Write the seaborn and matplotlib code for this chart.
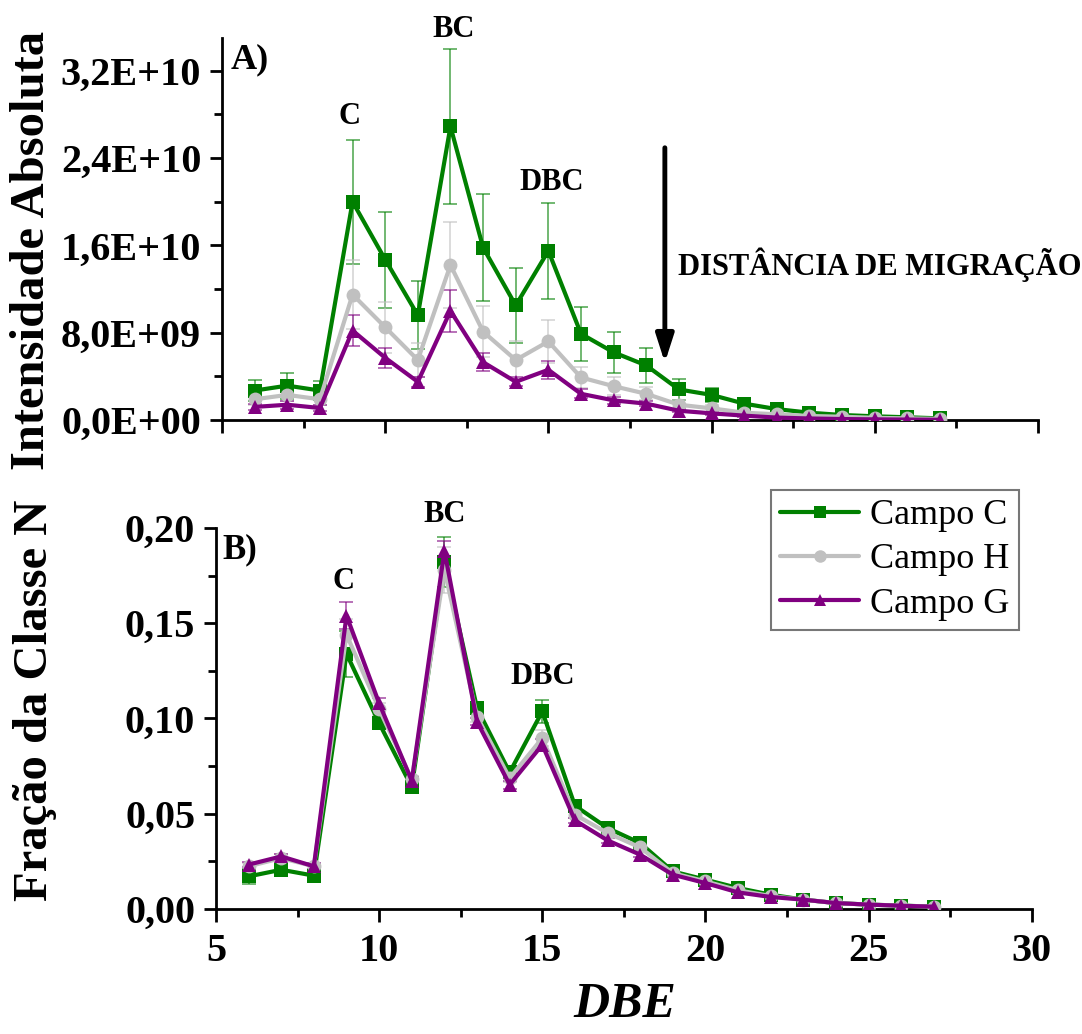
import numpy as np
import pandas as pd
import seaborn as sns
import matplotlib
matplotlib.use("Agg")
import matplotlib.pyplot as plt
from matplotlib.ticker import MultipleLocator, FuncFormatter

# ---------------- data ----------------
dbe = list(range(6, 28))
campos = ["Campo C", "Campo H", "Campo G"]

# Panel A: absolute intensity (units of 1E9)
abs_c = [2.7, 3.15, 2.7, 20.0, 14.7, 9.6, 26.9, 15.8, 10.5, 15.5, 7.9, 6.2, 5.0, 2.8, 2.3, 1.5, 1.0, 0.67, 0.46, 0.34, 0.25, 0.15]
abs_c_err = [1.0, 1.2, 0.9, 5.7, 4.4, 3.1, 7.1, 4.9, 3.4, 4.4, 2.5, 1.9, 1.6, 1.0, 0.64, 0.35, 0.25, 0.18, 0.12, 0.1, 0.08, 0.05]
abs_h = [1.9, 2.3, 1.9, 11.5, 8.5, 5.5, 14.2, 8.1, 5.5, 7.2, 3.9, 3.1, 2.4, 1.4, 1.07, 0.67, 0.52, 0.37, 0.3, 0.2, 0.15, 0.1]
abs_h_err = [0.5, 0.6, 0.5, 3.2, 2.35, 1.6, 3.9, 2.35, 1.7, 2.0, 1.0, 0.8, 0.6, 0.4, 0.3, 0.2, 0.15, 0.1, 0.08, 0.06, 0.05, 0.03]
abs_g = [1.2, 1.4, 1.1, 8.2, 5.7, 3.5, 10.0, 5.3, 3.5, 4.6, 2.4, 1.8, 1.5, 0.85, 0.61, 0.4, 0.22, 0.14, 0.09, 0.06, 0.04, 0.02]
abs_g_err = [0.3, 0.35, 0.3, 1.4, 0.9, 0.45, 1.9, 0.8, 0.4, 0.85, 0.4, 0.3, 0.25, 0.15, 0.12, 0.08, 0.05, 0.04, 0.03, 0.02, 0.02, 0.01]

# Panel B: class fraction
frac_c = [0.0171, 0.0206, 0.0175, 0.134, 0.0976, 0.064, 0.182, 0.1054, 0.0717, 0.1037, 0.0542, 0.0425, 0.0346, 0.0197, 0.0154, 0.011, 0.0075, 0.0049, 0.0031, 0.0023, 0.0018, 0.0012]
frac_c_err = [0.004, 0.002, 0.0015, 0.012, 0.003, 0.002, 0.013, 0.003, 0.002, 0.006, 0.002, 0.0015, 0.0015, 0.001, 0.001, 0.0008, 0.0006, 0.0005, 0.0004, 0.0003, 0.0003, 0.0002]
frac_h = [0.0224, 0.0267, 0.0224, 0.144, 0.105, 0.068, 0.178, 0.101, 0.0687, 0.0897, 0.0495, 0.0399, 0.0323, 0.0188, 0.0145, 0.0098, 0.0068, 0.0049, 0.0031, 0.0023, 0.0017, 0.0012]
frac_h_err = [0.002, 0.002, 0.002, 0.008, 0.003, 0.002, 0.012, 0.003, 0.002, 0.004, 0.002, 0.0015, 0.0015, 0.001, 0.001, 0.0008, 0.0006, 0.0005, 0.0004, 0.0003, 0.0003, 0.0002]
frac_g = [0.0233, 0.0276, 0.0224, 0.154, 0.108, 0.0673, 0.188, 0.0984, 0.0652, 0.0862, 0.0465, 0.036, 0.0285, 0.018, 0.0136, 0.0087, 0.0063, 0.0049, 0.0031, 0.0023, 0.0017, 0.0012]
frac_g_err = [0.0015, 0.0015, 0.0015, 0.007, 0.003, 0.002, 0.005, 0.002, 0.002, 0.003, 0.0015, 0.0012, 0.0012, 0.001, 0.0008, 0.0006, 0.0005, 0.0004, 0.0003, 0.0003, 0.0002, 0.0002]

colors = {"Campo C": "#008000", "Campo H": "#C0C0C0", "Campo G": "#800080"}
markers = {"Campo C": "s", "Campo H": "o", "Campo G": "^"}

def long_df(series, errs):
    rows = []
    for name, vals, ers in zip(campos, series, errs):
        for x, v, e in zip(dbe, vals, ers):
            rows.append({"DBE": x, "val": v, "err": e, "Campo": name})
    return pd.DataFrame(rows)

df_a = long_df([[v * 1e9 for v in abs_c], [v * 1e9 for v in abs_h], [v * 1e9 for v in abs_g]],
               [[v * 1e9 for v in abs_c_err], [v * 1e9 for v in abs_h_err], [v * 1e9 for v in abs_g_err]])
df_b = long_df([frac_c, frac_h, frac_g], [frac_c_err, frac_h_err, frac_g_err])

# ---------------- style ----------------
sns.set_theme(style="ticks")
plt.rcParams["font.family"] = ["Liberation Serif", "DejaVu Serif"]
plt.rcParams["axes.linewidth"] = 2.0
plt.rcParams["axes.edgecolor"] = "black"
plt.rcParams["text.color"] = "black"
plt.rcParams["xtick.color"] = "black"
plt.rcParams["ytick.color"] = "black"

fig = plt.figure(figsize=(10.82, 10.34), dpi=100)
ax_a = fig.add_axes([0.2052, 0.5938, 0.754, 0.3694])
ax_b = fig.add_axes([0.1996, 0.1209, 0.754, 0.3685])

def draw(ax, df):
    for name in campos:
        sub = df[df["Campo"] == name]
        ax.errorbar(sub["DBE"], sub["val"], yerr=sub["err"], fmt="none",
                    ecolor=colors[name], alpha=0.6, elinewidth=1.3, capsize=5, capthick=1.3, zorder=2)
    sns.lineplot(data=df, x="DBE", y="val", hue="Campo", style="Campo",
                 palette=colors, markers=markers, dashes=False, linewidth=3,
                 markersize=10, markeredgewidth=0, ax=ax, legend=(ax is ax_b),
                 errorbar=None, sort=False, zorder=3)

tick_font = dict(family="Liberation Serif", weight="bold", size=29)

draw(ax_a, df_a)
draw(ax_b, df_b)

for ax in (ax_a, ax_b):
    ax.set_xlim(5, 30)
    ax.xaxis.set_major_locator(MultipleLocator(5))
    ax.xaxis.set_minor_locator(MultipleLocator(2.5))
    sns.despine(ax=ax)
    ax.tick_params(axis="both", which="major", direction="out", length=9, width=2, colors="black")
    ax.tick_params(axis="both", which="minor", direction="out", length=6, width=2, colors="black")
    ax.set_xlabel("")
    ax.set_ylabel("")

ax_a.set_ylim(0, 3.5e10)
ax_a.yaxis.set_major_locator(MultipleLocator(8e9))
ax_a.yaxis.set_minor_locator(MultipleLocator(4e9))
def sci_comma(v, pos):
    return "{:.1E}".format(v).replace(".", ",")
ax_a.yaxis.set_major_formatter(FuncFormatter(sci_comma))
ax_a.tick_params(axis="x", labelbottom=False)

ax_b.set_ylim(0, 0.20)
ax_b.yaxis.set_major_locator(MultipleLocator(0.05))
ax_b.yaxis.set_minor_locator(MultipleLocator(0.025))
ax_b.yaxis.set_major_formatter(FuncFormatter(lambda v, p: "{:.2f}".format(v).replace(".", ",")))

for ax in (ax_a, ax_b):
    for lab in ax.get_yticklabels() + ax.get_xticklabels():
        lab.set_fontproperties(tick_font)
ax_b.tick_params(axis="x", pad=8)
ax_a.tick_params(axis="y", pad=6)
ax_b.tick_params(axis="y", pad=6)

# annotations
ann = dict(family="Liberation Serif", weight="bold", size=22, ha="center", va="center")
ax_a.text(5.25, 3.3e10, "A)", family="Liberation Serif", weight="bold", size=26, ha="left", va="center")
ax_a.text(8.9, 2.78e10, "C", **ann)
ax_a.text(12.1, 3.58e10, "BC", clip_on=False, **ann)
ax_a.text(15.1, 2.18e10, "DBC", **ann)
ax_a.annotate("", xy=(18.57, 5.0e9), xytext=(18.57, 2.52e10),
              arrowprops=dict(arrowstyle="-|>,head_length=1.4,head_width=0.45", color="black", lw=3.5))
ax_a.text(18.97, 1.42e10, "DISTÂNCIA DE MIGRAÇÃO", family="Liberation Serif", weight="bold",
          size=22, ha="left", va="center", clip_on=False)

ax_b.text(5.2, 0.1885, "B)", family="Liberation Serif", weight="bold", size=25, ha="left", va="center")
ax_b.text(8.9, 0.172, "C", **ann)
ax_b.text(12.0, 0.207, "BC", clip_on=False, **ann)
ax_b.text(15.0, 0.122, "DBC", **ann)

# legend
leg = ax_b.legend(loc="upper left", bbox_to_anchor=(771 / 1082, 1 - 490 / 1034),
                  bbox_transform=fig.transFigure, borderaxespad=0,
                  prop=dict(family="Liberation Serif", size=26), frameon=True, fancybox=False,
                  handlelength=2.2, labelspacing=0.3, handletextpad=0.3, borderpad=0.25)
leg.get_frame().set_edgecolor("#555555")
leg.get_frame().set_linewidth(1.5)
for h in leg.legend_handles:
    h.set_linewidth(3)
    h.set_markersize(9)

# axis labels
fig.text(32 / 1082, 1 - 250 / 1034, "Intensidade Absoluta", rotation=90, ha="center", va="center",
         family="Liberation Serif", weight="bold", size=35)
fig.text(35 / 1082, 1 - 700 / 1034, "Fração da Classe N", rotation=90, ha="center", va="center",
         family="Liberation Serif", weight="bold", size=35)
fig.text(625 / 1082, 1 - 1005 / 1034, "DBE", ha="center", va="center",
         family="Liberation Serif", weight="bold", style="italic", size=36)

fig.savefig("out.png", dpi=100)
